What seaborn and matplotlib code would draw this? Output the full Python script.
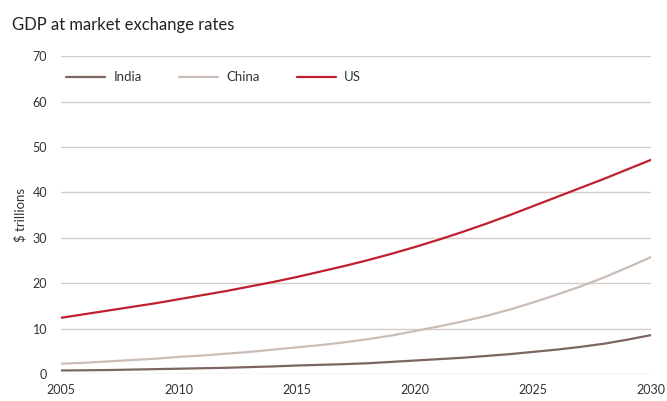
import matplotlib
matplotlib.use("Agg")
import matplotlib.pyplot as plt
import seaborn as sns
import pandas as pd

years = list(range(2005, 2031))
us = [12.4, 13.2, 14.0, 14.8, 15.6, 16.5, 17.4, 18.3, 19.3, 20.3, 21.4, 22.6, 23.8,
      25.1, 26.5, 28.0, 29.6, 31.3, 33.1, 35.0, 37.0, 39.0, 41.0, 43.0, 45.1, 47.2]
china = [2.3, 2.5, 2.8, 3.1, 3.4, 3.8, 4.1, 4.5, 4.9, 5.4, 5.9, 6.4, 7.0,
         7.7, 8.5, 9.5, 10.5, 11.6, 12.8, 14.2, 15.8, 17.5, 19.3, 21.3, 23.5, 25.8]
india = [0.8, 0.85, 0.9, 1.0, 1.1, 1.2, 1.3, 1.4, 1.55, 1.7, 1.9, 2.05, 2.2,
         2.4, 2.7, 3.0, 3.3, 3.6, 4.0, 4.4, 4.9, 5.4, 6.0, 6.7, 7.6, 8.6]
series_names = ["India", "China", "US"]
colors = {"India": "#7d6660", "China": "#cbbdb6", "US": "#c01f2f"}
xticks = [2005, 2010, 2015, 2020, 2025, 2030]
yticks = [0, 10, 20, 30, 40, 50, 60, 70]

df = pd.DataFrame({
    "year": years * 3,
    "value": india + china + us,
    "country": ["India"] * len(years) + ["China"] * len(years) + ["US"] * len(years),
})

sns.set_style("white")
plt.rcParams["font.family"] = ["Lato", "DejaVu Sans"]

fig = plt.figure(figsize=(6.67, 4.01), dpi=100)
ax = fig.add_axes([0.0915, 0.067, 0.885, 0.793])

for y in yticks:
    ax.axhline(y, color="#d8ccc8", lw=1.0, zorder=0)

sns.lineplot(data=df, x="year", y="value", hue="country", hue_order=series_names,
             palette=colors, ax=ax, linewidth=1.6, legend=True)

ax.set_xlim(2005, 2030)
ax.set_ylim(0, 70)
ax.set_xticks(xticks)
ax.set_yticks(yticks)
ax.tick_params(axis="both", length=0, labelsize=9, colors="#333333")
ax.tick_params(axis="x", pad=7)
ax.tick_params(axis="y", pad=10)
for s in ax.spines.values():
    s.set_visible(False)
ax.set_xlabel("")
ax.set_ylabel("$ trillions", fontsize=9.5, color="#333333", labelpad=4)

leg = ax.legend(loc="upper left", bbox_to_anchor=(-0.012, 0.99), ncol=3, frameon=False,
                fontsize=9.5, handlelength=3.0, columnspacing=2.8, handletextpad=0.6)
for t in leg.get_texts():
    t.set_color("#333333")

fig.text(0.018, 0.925, "GDP at market exchange rates", fontsize=12, color="#222222")

fig.savefig("out.png", dpi=100)
